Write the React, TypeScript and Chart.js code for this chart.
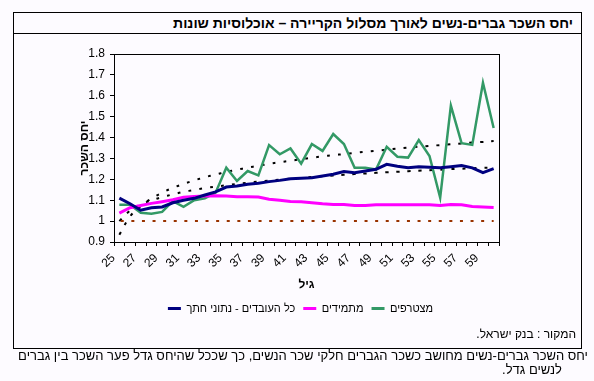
import React, { useEffect, useRef } from 'react';
import { Chart, registerables } from 'chart.js';

Chart.register(...registerables);

const ages = ['25','26','27','28','29','30','31','32','33','34','35','36','37','38','39','40','41','42','43','44','45','46','47','48','49','50','51','52','53','54','55','56','57','58','59','60'];

const allWorkers = [1.11,1.083,1.052,1.064,1.068,1.088,1.1,1.109,1.125,1.14,1.163,1.168,1.176,1.181,1.189,1.195,1.203,1.205,1.208,1.216,1.224,1.237,1.232,1.24,1.248,1.272,1.263,1.256,1.26,1.258,1.255,1.26,1.266,1.255,1.232,1.251];

const persistent = [1.038,1.064,1.075,1.085,1.093,1.102,1.114,1.118,1.12,1.121,1.12,1.117,1.117,1.115,1.105,1.1,1.094,1.093,1.088,1.083,1.08,1.08,1.075,1.075,1.078,1.078,1.078,1.078,1.078,1.078,1.075,1.08,1.078,1.07,1.067,1.065];

const joiners = [1.078,1.078,1.04,1.035,1.044,1.096,1.068,1.1,1.109,1.136,1.256,1.192,1.24,1.219,1.364,1.32,1.348,1.275,1.369,1.336,1.417,1.369,1.255,1.255,1.247,1.356,1.308,1.304,1.388,1.312,1.112,1.553,1.373,1.365,1.662,1.446];

const parityLine = [1,1,1,1,1,1,1,1,1,1,1,1,1,1,1,1,1,1,1,1,1,1,1,1,1,1,1,1,1,1,1,1,1,1,1,1];

const joinersTrend = [0.935,1.022,1.072,1.108,1.136,1.159,1.178,1.195,1.21,1.223,1.235,1.246,1.256,1.265,1.274,1.282,1.289,1.296,1.303,1.31,1.316,1.321,1.327,1.332,1.337,1.342,1.347,1.352,1.356,1.36,1.364,1.368,1.372,1.376,1.379,1.383];

const allWorkersTrend = [1.0,1.05,1.079,1.099,1.115,1.128,1.14,1.149,1.158,1.165,1.172,1.178,1.184,1.189,1.194,1.199,1.203,1.207,1.211,1.215,1.218,1.222,1.225,1.228,1.231,1.234,1.236,1.239,1.241,1.244,1.246,1.249,1.251,1.253,1.255,1.257];

const yTickLabels = ['0.9','1','1.1','1.2','1.3','1.4','1.5','1.6','1.7','1.8'];

const seriesNames = ['כל העובדים - נתוני חתך', 'מתמידים', 'מצטרפים'];

const FONT = '"Liberation Sans", Arial, sans-serif';

const boxPlugin = {
  id: 'plotBox',
  afterLayout(chart: any) {
    const lg = chart.legend;
    if (lg) {
      lg.left += 16;
      lg.right += 16;
    }
  },
  beforeDatasetsDraw(chart: any) {
    const { ctx, chartArea } = chart;
    const l = Math.round(chartArea.left) + 0.5;
    const t = Math.round(chartArea.top) + 0.5;
    const r = Math.round(chartArea.right) + 0.5;
    const b = Math.round(chartArea.bottom) + 0.5;
    ctx.save();
    ctx.strokeStyle = '#000';
    ctx.lineWidth = 1;
    ctx.strokeRect(l, t, r - l, b - t);
    ctx.restore();
  },
};

export default function App() {
  const ref = useRef<HTMLCanvasElement>(null);

  useEffect(() => {
    if (!ref.current) return;
    Chart.defaults.font.family = FONT;
    Chart.defaults.font.size = 12;
    Chart.defaults.color = '#000';
    const chart = new Chart(ref.current, {
      type: 'line',
      data: {
        labels: ages,
        datasets: [
          { label: seriesNames[0], data: allWorkers, borderColor: '#000080', backgroundColor: '#000080', borderWidth: 3, pointRadius: 0, tension: 0 },
          { label: seriesNames[1], data: persistent, borderColor: '#FF00FF', backgroundColor: '#FF00FF', borderWidth: 3, pointRadius: 0, tension: 0 },
          { label: seriesNames[2], data: joiners, borderColor: '#339966', backgroundColor: '#339966', borderWidth: 2.5, pointRadius: 0, tension: 0 },
          { label: 'parity', data: parityLine, borderColor: '#993300', backgroundColor: '#993300', borderWidth: 2, borderDash: [3, 7.6], borderDashOffset: -1.4, pointRadius: 0, tension: 0 },
          { label: 'trend1', data: joinersTrend, borderColor: '#000', backgroundColor: '#000', borderWidth: 2, borderDash: [3, 8], pointRadius: 0, tension: 0.4 },
          { label: 'trend2', data: allWorkersTrend, borderColor: '#000', backgroundColor: '#000', borderWidth: 2, borderDash: [3, 8], pointRadius: 0, tension: 0.4 },
        ],
      },
      options: {
        animation: false,
        responsive: false,
        maintainAspectRatio: false,
        layout: { padding: { left: 70, right: 95, top: 54, bottom: 57 } },
        plugins: {
          tooltip: { enabled: false },
          legend: {
            position: 'bottom',
            labels: {
              boxWidth: 13,
              boxHeight: 3,
              padding: 8,
              font: { size: 11, family: FONT },
              color: '#000',
              generateLabels: (c: any) =>
                Chart.defaults.plugins.legend.labels
                  .generateLabels(c)
                  .filter((it: any) => it.datasetIndex < 3)
                  .map((it: any) => ({ ...it, lineWidth: 0, lineDash: [] })),
            },
          },
        },
        scales: {
          x: {
            type: 'category',
            offset: true,
            afterFit: (s: any) => { s.height = 53; },
            grid: { offset: true, drawOnChartArea: false, drawTicks: true, tickLength: 4, color: '#000' },
            border: { color: '#000', width: 1 },
            ticks: {
              autoSkip: false,
              minRotation: 45,
              maxRotation: 45,
              padding: 5,
              labelOffset: -6,
              font: { size: 12, family: FONT },
              color: '#000',
              callback: (_v: any, i: number) => (i % 2 === 0 ? ages[i] : ''),
            },
            title: { display: true, text: 'גיל', font: { size: 12, weight: 'bold', family: FONT }, color: '#000', padding: { top: 2, bottom: 3 } },
          },
          y: {
            min: 0.9,
            max: 1.8,
            afterFit: (s: any) => { s.width = 44; },
            grid: { drawOnChartArea: false, drawTicks: true, tickLength: 4, color: '#000' },
            border: { color: '#000', width: 1 },
            ticks: {
              stepSize: 0.1,
              padding: 5,
              font: { size: 12, family: FONT },
              color: '#000',
              callback: (_v: any, i: number) => yTickLabels[i],
            },
            title: { display: true, text: 'יחס השכר', font: { size: 12, weight: 'bold', family: FONT }, color: '#000', padding: { top: 7, bottom: 0 } },
          },
        },
      },
      plugins: [boxPlugin],
    } as any);
    return () => chart.destroy();
  }, []);

  const textBase: React.CSSProperties = {
    position: 'absolute',
    fontFamily: FONT,
    color: '#000',
    whiteSpace: 'nowrap',
    direction: 'rtl',
    lineHeight: '14px',
  };

  return (
    <div style={{ position: 'absolute', left: 0, top: 0, width: 594, height: 381, overflow: 'hidden', background: '#fdfbff' }}>
      <div style={{ position: 'absolute', left: 13, top: 12, width: 567, height: 335, border: '1px solid #000' }} />
      <div style={{ position: 'absolute', left: 13, top: 33, width: 569, height: 1, background: '#000' }} />
      <div style={{ ...textBase, right: 594 - 573, top: 15, fontSize: 14, fontWeight: 'bold', lineHeight: '16px' }}>
        יחס השכר גברים-נשים לאורך מסלול הקריירה – אוכלוסיות שונות
      </div>
      <canvas ref={ref} width={594} height={381} style={{ position: 'absolute', left: 0, top: 0, width: 594, height: 381 }} />
      <div style={{ ...textBase, right: 594 - 576, top: 327, fontSize: 12 }}>המקור : בנק ישראל.</div>
      <div style={{ ...textBase, right: 594 - 588, top: 349, fontSize: 13 }}>
        יחס השכר גברים-נשים מחושב כשכר הגברים חלקי שכר הנשים, כך שככל שהיחס גדל פער השכר בין גברים
      </div>
      <div style={{ ...textBase, right: 594 - 562, top: 363, fontSize: 13 }}>לנשים גדל.</div>
    </div>
  );
}
